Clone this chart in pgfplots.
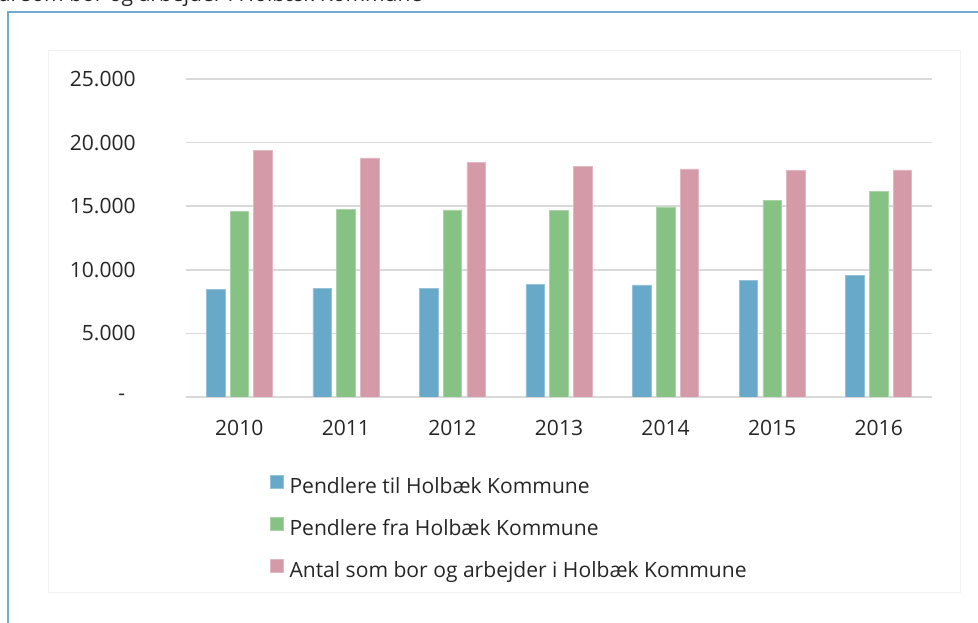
\documentclass[border=0pt]{standalone}
\usepackage{fontspec}
\setmainfont{Open Sans}
\usepackage{pgfplots}
\pgfplotsset{compat=1.18}
\definecolor{cblue}{RGB}{104,168,200}
\definecolor{cgreen}{RGB}{133,194,131}
\definecolor{cpink}{RGB}{212,154,168}
\definecolor{frameblue}{RGB}{110,172,210}
\definecolor{txt}{RGB}{38,38,38}
\definecolor{gridc}{RGB}{217,217,217}
\pgfplotsset{sq legend/.style={legend image code/.code={\fill[##1] (0pt,0pt) rectangle (9.75pt,9.75pt);}}}
\begin{document}
\begin{tikzpicture}[x=0.75pt,y=0.75pt]
\draw[black!5] (-138,-195) rectangle (774,347);
\begin{axis}[
  at={(0pt,0pt)}, anchor=south west,
  scale only axis, width=559.5pt, height=238.5pt,
  xmin=-0.5, xmax=6.5, ymin=0, ymax=25000,
  enlargelimits=false,
  scaled y ticks=false,
  axis line style={draw=none},
  major tick length=0pt,
  ymajorgrids, grid style={gridc, line width=1.1pt},
  xtick={0,1,2,3,4,5,6},
  xticklabels={2010,2011,2012,2013,2014,2015,2016},
  ytick={0,5000,10000,15000,20000,25000},
  yticklabels={-\hspace*{8pt},5.000,10.000,15.000,20.000,25.000},
  tick label style={font=\fontsize{15.8}{19}\selectfont, text=txt, inner sep=0pt},
  yticklabel style={xshift=-37.5pt},
  xticklabel style={yshift=-17.25pt},
  ybar=3.9pt, bar width=13.9pt,
  legend style={at={(axis description cs:0.1126,-0.2453)}, anchor=north west,
    draw=none, fill=none, inner sep=0pt, outer sep=0pt,
    font=\fontsize{15.8}{19}\selectfont, text=txt, row sep=13.6pt,
    nodes={inner sep=0pt, text height=12pt, text depth=4pt},
    /tikz/every odd column/.append style={column sep=4.5pt}},
  legend cell align=left,
]
\addplot[fill=cblue, draw=cblue!70!white, line width=0.4pt, sq legend] coordinates {(0,8480) (1,8510) (2,8510) (3,8850) (4,8820) (5,9160) (6,9580)};
\addplot[fill=cgreen, draw=cgreen!70!white, line width=0.4pt, sq legend] coordinates {(0,14580) (1,14760) (2,14710) (3,14660) (4,14950) (5,15470) (6,16180)};
\addplot[fill=cpink, draw=cpink!70!white, line width=0.4pt, sq legend] coordinates {(0,19370) (1,18800) (2,18430) (3,18140) (4,17930) (5,17800) (6,17850)};
\legend{Pendlere til Holbæk Kommune, Pendlere fra Holbæk Kommune, Antal som bor og arbejder i Holbæk Kommune}
\end{axis}
\begin{scope}
\clip (-186,-226) rectangle (792,397);
\node[anchor=base west, inner sep=0pt, text=txt, font=\fontsize{15.8}{19}\selectfont] at (-221,395) {Antal som bor og arbejder i Holbæk Kommune};
\draw[frameblue, line width=1.5pt] (-177.5,-240) -- (-177.5,385) -- (810,385);
\end{scope}
\pgfresetboundingbox
\path[use as bounding box] (-186,-226) rectangle (792,397);
\end{tikzpicture}
\end{document}
